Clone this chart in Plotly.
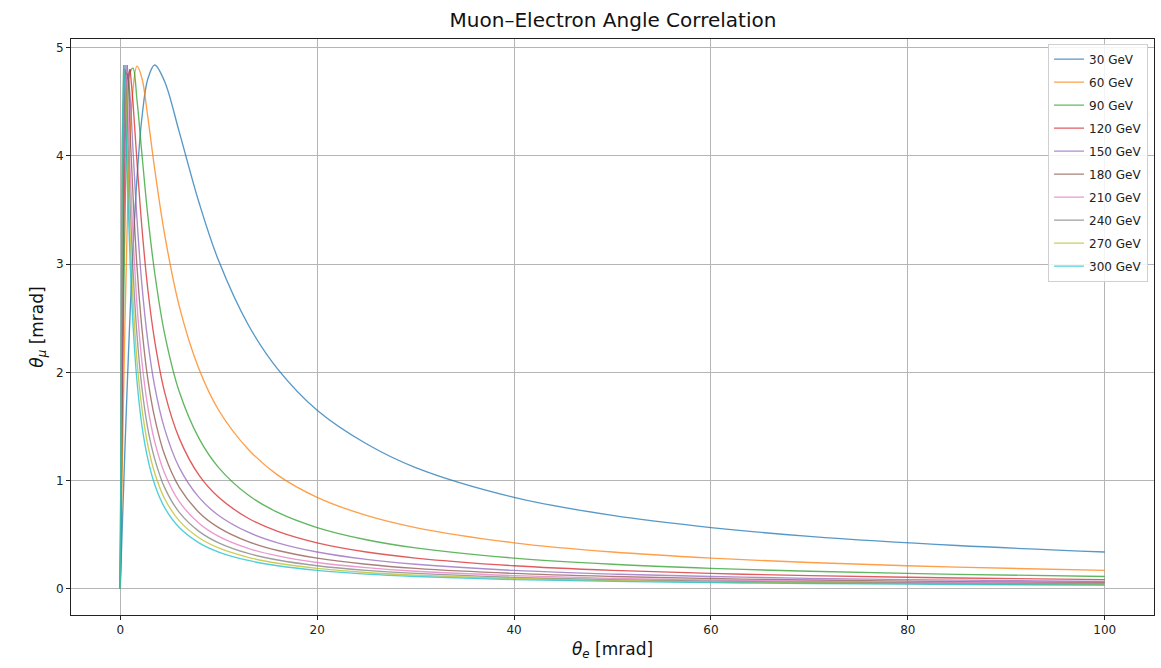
import plotly.graph_objects as go

# Electron scattering angle grid [mrad]
theta_e = [0, 0.2, 0.35, 0.5, 0.7, 1.0, 1.3, 1.7, 2.2, 2.8, 3.5, 4.5, 6, 8, 10,
           13, 16, 20, 25, 30, 40, 50, 60, 70, 85, 100]

labels = ["30 GeV", "60 GeV", "90 GeV", "120 GeV", "150 GeV",
          "180 GeV", "210 GeV", "240 GeV", "270 GeV", "300 GeV"]

# Muon angle [mrad] for each beam energy
mu_30 = [0, 0.55, 0.95, 1.35, 1.85, 2.54, 3.14, 3.79, 4.35, 4.71, 4.84, 4.69, 4.22, 3.57, 3.03,
         2.44, 2.03, 1.65, 1.34, 1.12, 0.845, 0.678, 0.566, 0.485, 0.400, 0.340]
mu_60 = [0, 1.08, 1.85, 2.54, 3.32, 4.15, 4.62, 4.83, 4.72, 4.36, 3.88, 3.28, 2.61, 2.03, 1.65,
         1.29, 1.05, 0.845, 0.678, 0.566, 0.425, 0.340, 0.284, 0.243, 0.200, 0.170]
mu_90 = [0, 1.60, 2.65, 3.49, 4.25, 4.77, 4.81, 4.52, 4.02, 3.45, 2.92, 2.36, 1.82, 1.39, 1.12,
         0.866, 0.706, 0.566, 0.453, 0.378, 0.284, 0.227, 0.189, 0.162, 0.134, 0.114]
mu_120 = [0, 2.09, 3.32, 4.15, 4.71, 4.80, 4.49, 3.95, 3.34, 2.77, 2.29, 1.82, 1.39, 1.05, 0.845,
          0.652, 0.531, 0.425, 0.340, 0.284, 0.213, 0.170, 0.142, 0.122, 0.100, 0.085]
mu_150 = [0, 2.54, 3.85, 4.57, 4.84, 4.55, 4.05, 3.42, 2.81, 2.29, 1.87, 1.48, 1.12, 0.845, 0.678,
          0.523, 0.425, 0.340, 0.272, 0.227, 0.170, 0.136, 0.114, 0.097, 0.080, 0.068]
mu_180 = [0, 2.95, 4.25, 4.77, 4.76, 4.22, 3.63, 2.98, 2.41, 1.94, 1.58, 1.24, 0.937, 0.706, 0.566,
          0.436, 0.354, 0.284, 0.227, 0.189, 0.142, 0.114, 0.095, 0.081, 0.067, 0.057]
mu_210 = [0, 3.32, 4.53, 4.84, 4.58, 3.88, 3.26, 2.63, 2.10, 1.68, 1.36, 1.07, 0.805, 0.606, 0.485,
          0.374, 0.304, 0.243, 0.195, 0.162, 0.122, 0.097, 0.081, 0.070, 0.057, 0.049]
mu_240 = [0, 3.64, 4.71, 4.80, 4.36, 3.57, 2.94, 2.35, 1.86, 1.48, 1.20, 0.937, 0.706, 0.531, 0.425,
          0.327, 0.266, 0.213, 0.170, 0.142, 0.106, 0.085, 0.071, 0.061, 0.050, 0.043]
mu_270 = [0, 3.92, 4.81, 4.69, 4.12, 3.28, 2.67, 2.11, 1.67, 1.33, 1.07, 0.835, 0.628, 0.472, 0.378,
          0.291, 0.236, 0.189, 0.151, 0.126, 0.095, 0.076, 0.063, 0.054, 0.045, 0.038]
mu_300 = [0, 4.15, 4.84, 4.55, 3.88, 3.03, 2.44, 1.92, 1.51, 1.20, 0.964, 0.752, 0.566, 0.425, 0.340,
          0.262, 0.213, 0.170, 0.136, 0.114, 0.085, 0.068, 0.057, 0.049, 0.040, 0.034]

series = [mu_30, mu_60, mu_90, mu_120, mu_150, mu_180, mu_210, mu_240, mu_270, mu_300]
colors = ["#1f77b4", "#ff7f0e", "#2ca02c", "#d62728", "#9467bd",
          "#8c564b", "#e377c2", "#7f7f7f", "#bcbd22", "#17becf"]

fig = go.Figure()
for i, (name, ys, c) in enumerate(zip(labels, series, colors)):
    if i < 3:
        # well-sampled peak: one smooth curve
        fig.add_trace(go.Scatter(x=theta_e, y=ys, mode="lines", name=name,
                                 legendgroup=name,
                                 line=dict(color=c, width=1.35, shape="spline", smoothing=1.0),
                                 opacity=0.75))
        continue
    ip = ys.index(max(ys))
    # rising branch (straight segments) up to the peak
    fig.add_trace(go.Scatter(x=theta_e[:ip + 1], y=ys[:ip + 1], mode="lines", name=name,
                             legendgroup=name,
                             line=dict(color=c, width=1.35), opacity=0.75))
    # falling branch, smoothed
    fig.add_trace(go.Scatter(x=theta_e[ip:], y=ys[ip:], mode="lines", name=name,
                             legendgroup=name, showlegend=False,
                             line=dict(color=c, width=1.35, shape="spline", smoothing=1.0),
                             opacity=0.75))

axis_common = dict(showline=True, linecolor="#222", linewidth=1, mirror=True,
                   ticks="outside", ticklen=4, tickcolor="#222",
                   showgrid=True, gridcolor="#b5b5b5", gridwidth=1,
                   zeroline=False, tickfont=dict(family="DejaVu Sans", size=12, color="#222"))

fig.update_layout(
    width=1161, height=668,
    margin=dict(l=71, r=7, t=39, b=53),
    paper_bgcolor="white", plot_bgcolor="white",
    title=dict(text="Muon–Electron Angle Correlation", x=0.528, xanchor="center",
               y=0.970, yanchor="middle",
               font=dict(family="DejaVu Sans", size=20, color="#111")),
    xaxis=dict(range=[-5, 105], dtick=20, tick0=0,
               title=dict(text="<i>θ<sub>e</sub></i> [mrad]", standoff=6,
                          font=dict(family="DejaVu Sans", size=17, color="#111")),
               **axis_common),
    yaxis=dict(range=[-0.242, 5.08], dtick=1, tick0=0,
               title=dict(text="<i>θ<sub>μ</sub></i> [mrad]", standoff=8,
                          font=dict(family="DejaVu Sans", size=17, color="#111")),
               **axis_common),
    legend=dict(x=0.9945, y=0.992, xanchor="right", yanchor="top",
                bgcolor="rgba(255,255,255,0.85)", bordercolor="#d0d0d0", borderwidth=1,
                font=dict(family="DejaVu Sans", size=12, color="#222"),
                tracegroupgap=4),
    showlegend=True,
)

fig.write_html("out.html")
